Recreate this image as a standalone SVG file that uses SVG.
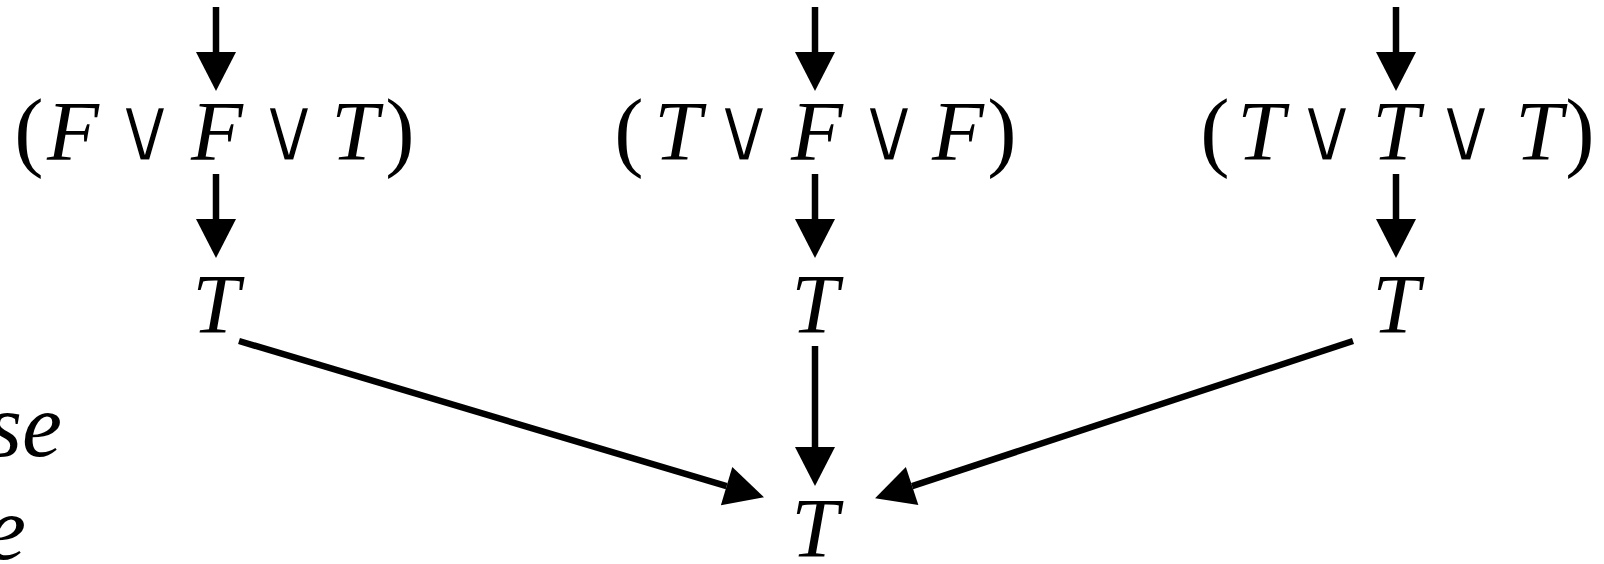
<svg xmlns="http://www.w3.org/2000/svg" width="1604" height="564" viewBox="0 0 1604 564">
<style>
.m{font-family:"Liberation Serif","DejaVu Serif",serif;font-style:italic;font-size:85px;fill:#000;text-anchor:middle}
.o{font-family:"DejaVu Sans",sans-serif;font-style:normal;font-size:94px;fill:#000;stroke:#fff;stroke-width:3.2;text-anchor:middle}
.p{font-family:"Liberation Serif",serif;font-style:normal;font-size:88px;fill:#000;text-anchor:middle}
.c{stroke:#000;stroke-width:6.5;fill:none}
</style>
<defs>
<marker id="ah" markerUnits="userSpaceOnUse" markerWidth="40" markerHeight="40" refX="0" refY="20" orient="auto" overflow="visible">
<path d="M0,0 L39,20 L0,40 Z" fill="#000"/>
</marker>
</defs>
<g id="connectors">
<line class="c" x1="216" y1="7" x2="216" y2="52" marker-end="url(#ah)"/>
<line class="c" x1="815" y1="7" x2="815" y2="52" marker-end="url(#ah)"/>
<line class="c" x1="1396" y1="7" x2="1396" y2="52" marker-end="url(#ah)"/>
<line class="c" x1="216" y1="174" x2="216" y2="219" marker-end="url(#ah)"/>
<line class="c" x1="815" y1="174" x2="815" y2="219" marker-end="url(#ah)"/>
<line class="c" x1="1396" y1="174" x2="1396" y2="219" marker-end="url(#ah)"/>
<line class="c" x1="815" y1="346" x2="815" y2="447" marker-end="url(#ah)"/>
<line class="c" x1="239" y1="341" x2="726.6" y2="486.2" marker-end="url(#ah)"/>
<line class="c" x1="1353" y1="341" x2="912.1" y2="486.1" marker-end="url(#ah)"/>
</g>
<g id="expr1">
<text y="160"><tspan class="p" x="29" y="160">(</tspan><tspan class="m" x="73">F</tspan><tspan class="m" x="217">F</tspan><tspan class="m" x="355">T</tspan><tspan class="p" x="400">)</tspan></text>
<text class="o" transform="translate(145,161) scale(0.95,1)">∨</text>
<text class="o" transform="translate(289,161) scale(0.95,1)">∨</text>
</g>
<g id="expr2">
<text y="160"><tspan class="p" x="629" y="160">(</tspan><tspan class="m" x="678">T</tspan><tspan class="m" x="817">F</tspan><tspan class="m" x="958">F</tspan><tspan class="p" x="1002">)</tspan></text>
<text class="o" transform="translate(744,161) scale(0.95,1)">∨</text>
<text class="o" transform="translate(889,161) scale(0.95,1)">∨</text>
</g>
<g id="expr3">
<text y="160"><tspan class="p" x="1215" y="160">(</tspan><tspan class="m" x="1261">T</tspan><tspan class="m" x="1396">T</tspan><tspan class="m" x="1539">T</tspan><tspan class="p" x="1580">)</tspan></text>
<text class="o" transform="translate(1327,161) scale(0.95,1)">∨</text>
<text class="o" transform="translate(1466,161) scale(0.95,1)">∨</text>
</g>
<g id="t1"><text class="m" x="216" y="333">T</text></g>
<g id="t2"><text class="m" x="815" y="333">T</text></g>
<g id="t3"><text class="m" x="1396" y="333">T</text></g>
<g id="tbottom"><text class="m" x="815" y="557">T</text></g>
<g id="side1"><text class="m" x="62" y="456" style="text-anchor:end;font-size:90px">se</text></g>
<g id="side2"><text class="m" x="26" y="559" style="text-anchor:end;font-size:90px">e</text></g>
</svg>
